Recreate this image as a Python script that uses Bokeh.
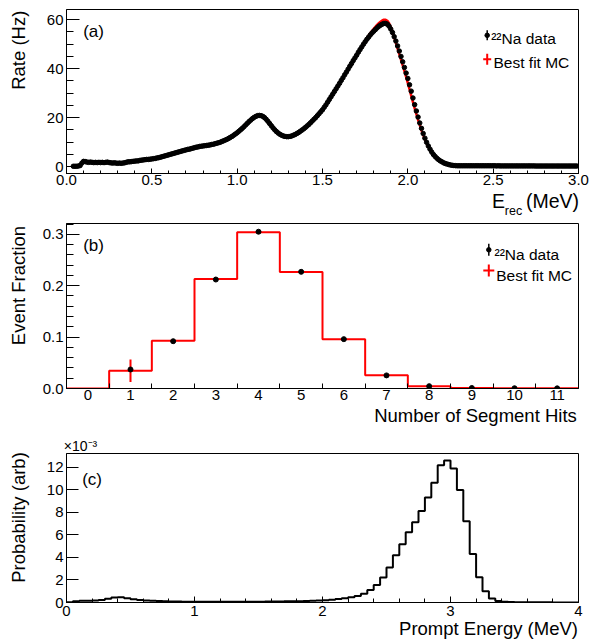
import numpy as np
from bokeh.plotting import figure
from bokeh.layouts import column
from bokeh.models import (Range1d, Label, FixedTicker, SingleIntervalTicker,
                          PrintfTickFormatter, LinearAxis)
from bokeh.embed import file_html
from bokeh.resources import INLINE

FONT = "Liberation Sans"

# ---------------- (a) reconstructed energy spectrum ----------------
E_START = 0.04
E_STEP = 0.01
rate_data = [
    0.1, 0.1, 0.1, 0.2, 0.4, 1.4,
    2.1, 2.0, 1.8, 1.7, 1.8, 1.7, 1.6, 1.7, 1.6, 1.7,
    1.6, 1.7, 1.6, 1.7, 1.8, 1.6, 1.5, 1.4, 1.5, 1.4,
    1.3, 1.4, 1.3, 1.4, 1.5, 1.7, 1.9, 1.9, 2.0, 2.1,
    2.2, 2.3, 2.3, 2.5, 2.6, 2.7, 2.8, 2.9, 2.9, 3.0,
    3.1, 3.2, 3.3, 3.5, 3.6, 3.8, 4.0, 4.2, 4.4, 4.6,
    4.8, 5.0, 5.2, 5.4, 5.6, 5.8, 6.0, 6.2, 6.4, 6.6,
    6.8, 7.0, 7.1, 7.3, 7.5, 7.7, 7.9, 8.0, 8.2, 8.3,
    8.4, 8.5, 8.6, 8.7, 8.8, 9.0, 9.1, 9.3, 9.5, 9.7,
    9.9, 10.2, 10.5, 10.8, 11.1, 11.5, 11.9, 12.3, 12.8, 13.3,
    13.8, 14.4, 15.0, 15.6, 16.3, 17.0, 17.7, 18.4, 19.0, 19.6,
    20.1, 20.5, 20.8, 20.9, 20.8, 20.5, 20.0, 19.3, 18.5, 17.6,
    16.7, 15.8, 15.0, 14.3, 13.7, 13.2, 12.8, 12.5, 12.3, 12.2,
    12.2, 12.3, 12.5, 12.8, 13.1, 13.5, 13.9, 14.4, 14.9, 15.4,
    16.0, 16.6, 17.2, 17.9, 18.6, 19.3, 20.0, 20.8, 21.6, 22.4,
    23.2, 24.2, 25.2, 26.3, 27.4, 28.5, 29.6, 30.7, 31.8, 32.9,
    34.0, 35.2, 36.3, 37.5, 38.6, 39.8, 41.0, 42.1, 43.3, 44.4,
    45.5, 46.7, 47.8, 48.9, 50.0, 51.0, 52.0, 52.9, 53.8, 54.6,
    55.3, 56.0, 56.7, 57.3, 57.8, 58.2, 58.5, 58.5, 58.2, 57.4,
    56.2, 54.8, 53.1, 51.3, 49.3, 47.2, 45.0, 42.8, 40.5, 38.2,
    36.0, 33.4, 30.8, 28.0, 25.3, 22.7, 20.2, 17.8, 15.6, 13.5,
    11.6, 9.9, 8.4, 7.1, 5.9, 4.9, 4.1, 3.4, 2.8, 2.3,
    1.9, 1.5, 1.2, 1.0, 0.8, 0.6, 0.5, 0.4, 0.35, 0.3,
    0.3, 0.3, 0.3, 0.3, 0.3, 0.3, 0.3, 0.3, 0.3, 0.3,
    0.3, 0.3, 0.3, 0.3, 0.3, 0.3, 0.3, 0.3, 0.3, 0.3,
    0.3, 0.3, 0.25, 0.3, 0.25, 0.25, 0.25, 0.25, 0.25, 0.25,
    0.25, 0.25, 0.25, 0.25, 0.25, 0.25, 0.25, 0.25, 0.25, 0.25,
    0.25, 0.25, 0.25, 0.25, 0.25, 0.2, 0.2, 0.2, 0.2, 0.2,
    0.2, 0.2, 0.2, 0.2, 0.2, 0.2, 0.2, 0.2, 0.2, 0.2,
    0.2, 0.2, 0.2, 0.2, 0.2, 0.2, 0.2, 0.2, 0.2, 0.2,
]
# best-fit MC differs visibly from data only around the main peak
MC_PEAK_START = 1.70
mc_peak = [
    45.6, 46.8, 48.0, 49.1, 50.3, 51.4, 52.5, 53.5, 54.5, 55.4,
    56.3, 57.1, 57.9, 58.6, 59.2, 59.7, 60.0, 60.0, 59.6, 58.6,
    57.0, 55.0, 52.8, 50.5, 48.2, 45.9, 43.6, 41.3, 39.0, 36.6,
    34.1, 31.5, 28.9, 26.3, 23.8, 21.4, 19.1, 16.9, 14.8, 12.9,
    11.1, 9.5, 8.1, 6.8, 5.7, 4.8, 4.0, 3.3, 2.7, 2.2,
    1.8, 1.4, 1.2, 1.0, 0.8, 0.6,
]

# ---------------- (b) segment multiplicity ----------------
hits = list(range(12))
mc_frac = [0.0, 0.0345, 0.093, 0.213, 0.304, 0.2265, 0.096, 0.026, 0.0045, 0.001, 0.0005, 0.0003]
mc_frac_err = [0.0, 0.022, 0.003, 0.003, 0.003, 0.003, 0.003, 0.002, 0.001, 0.0005, 0.0, 0.0]
data_hits = [1, 2, 3, 4, 5, 6, 7, 8, 9, 10, 11]
data_frac = [0.037, 0.092, 0.212, 0.305, 0.227, 0.096, 0.0255, 0.0045, 0.001, 0.0005, 0.0003]

# ---------------- (c) prompt energy (x 1e-3) ----------------
PE_START = 0.0
PE_STEP = 0.05
prob = [
    0.03, 0.10, 0.15, 0.16, 0.18, 0.22, 0.33, 0.45, 0.46, 0.38,
    0.28, 0.22, 0.18, 0.16, 0.13, 0.11, 0.09, 0.08, 0.07, 0.07,
    0.07, 0.07, 0.06, 0.06, 0.06, 0.06, 0.06, 0.06, 0.07, 0.07,
    0.07, 0.08, 0.08, 0.09, 0.10, 0.11, 0.12, 0.13, 0.15, 0.17,
    0.20, 0.24, 0.30, 0.37, 0.46, 0.58, 0.78, 1.10, 1.55, 2.22,
    3.10, 4.20, 5.18, 6.25, 7.12, 8.12, 9.32, 10.65, 12.20, 12.62,
    11.90, 10.00, 7.22, 4.30, 2.25, 1.00, 0.35, 0.13, 0.06, 0.04,
    0.03, 0.03, 0.02, 0.02, 0.02, 0.02, 0.01, 0.01, 0.01, 0.01,
]

# ---------------- layout constants ----------------
W = 589
FW = 512
BL, BR = 66, 11


def make_fig(height, top, bottom, xr, yr, fh):
    p = figure(width=W, height=height, x_range=xr, y_range=yr,
               output_backend="svg", toolbar_location=None,
               min_border_left=BL, min_border_right=BR,
               min_border_top=top, min_border_bottom=bottom)
    p.extra_x_ranges = {"px": Range1d(0, FW)}
    p.extra_y_ranges = {"py": Range1d(0, fh)}
    p.xgrid.grid_line_color = None
    p.ygrid.grid_line_color = None
    p.outline_line_color = "black"
    p.outline_line_alpha = 1.0
    p.outline_line_width = 1
    p.background_fill_color = "white"
    p.border_fill_color = "white"
    for ax in (p.xaxis[0], p.yaxis[0]):
        ax.major_tick_out = 0
        ax.minor_tick_out = 0
        ax.axis_line_color = "black"
        ax.major_tick_line_color = "black"
        ax.minor_tick_line_color = "black"
        ax.major_label_text_font = FONT
        ax.major_label_text_font_size = "15px"
        ax.major_label_text_color = "black"
    p.xaxis.major_label_standoff = 1
    p.yaxis.major_label_standoff = 3
    return p


def set_standoff(ax, s):
    try:
        ax.major_label_standoff = s
    except Exception:
        ax.major_label_standoff = 0


def text_axis(p, side, items, size, standoff, orientation="horizontal"):
    """A bare axis whose only tick labels are title texts (positions in pixel units)."""
    if side in ("below", "above"):
        ax = LinearAxis(x_range_name="px")
    else:
        ax = LinearAxis(y_range_name="py")
    ax.ticker = FixedTicker(ticks=[t for t, _ in items], minor_ticks=[])
    ax.major_label_overrides = {t: s for t, s in items}
    ax.axis_line_color = None
    ax.major_tick_line_color = None
    ax.minor_tick_line_color = None
    ax.major_tick_in = 0
    ax.major_tick_out = 0
    ax.minor_tick_in = 0
    ax.minor_tick_out = 0
    ax.major_label_text_font = FONT
    ax.major_label_text_font_size = size
    ax.major_label_text_color = "black"
    ax.major_label_orientation = orientation
    set_standoff(ax, standoff)
    p.add_layout(ax, side)
    return ax


def lab(p, x, y, text, size="17px", align="left"):
    p.add_layout(Label(x=x, y=y, x_units="screen", y_units="screen", text=text,
                       text_font=FONT, text_font_size=size, text_align=align,
                       text_baseline="alphabetic", text_color="black"))


def to_data(rng, px, size):
    return rng.start + (rng.end - rng.start) * px / size


def legend(p, fh, dot, bar, cross_c, cross_hw, cross_hh, t1, t2):
    xr, yr = p.x_range, p.y_range
    dx = to_data(xr, dot[0], FW)
    p.segment(x0=[dx], y0=[to_data(yr, bar[0], fh)], x1=[dx], y1=[to_data(yr, bar[1], fh)],
              line_color="black", line_width=1.5)
    p.scatter([dx], [to_data(yr, dot[1], fh)], size=4.5, color="black")
    cx = to_data(xr, cross_c[0], FW)
    cy = to_data(yr, cross_c[1], fh)
    p.segment(x0=[to_data(xr, cross_c[0] - cross_hw, FW)], y0=[cy],
              x1=[to_data(xr, cross_c[0] + cross_hw, FW)], y1=[cy], line_color="red", line_width=2)
    p.segment(x0=[cx], y0=[to_data(yr, cross_c[1] - cross_hh, fh)],
              x1=[cx], y1=[to_data(yr, cross_c[1] + cross_hh, fh)], line_color="red", line_width=2)
    lab(p, t1[0], t1[1], "\u00b2\u00b2Na data", size="15.5px")
    lab(p, t2[0], t2[1], "Best fit MC", size="15.5px")


# ================= panel (a) =================
FH_A = 165
pa = make_fig(220, 9, 46, Range1d(0, 3.0), Range1d(-2.86, 64.2), FH_A)
e_rec = [round(E_START + E_STEP * i, 3) for i in range(len(rate_data))]
i0 = int(round((MC_PEAK_START - E_START) / E_STEP))
rate_mc = rate_data[:i0] + mc_peak + rate_data[i0 + len(mc_peak):]
pa.line(e_rec, rate_mc, line_color="red", line_width=2.5)
pa.scatter(e_rec, rate_data, size=4.5, color="black")
pa.xaxis.ticker = SingleIntervalTicker(interval=0.5, num_minor_ticks=5)
pa.xaxis.formatter = PrintfTickFormatter(format="%.1f")
pa.yaxis.ticker = SingleIntervalTicker(interval=20, num_minor_ticks=4)
pa.xaxis.major_tick_in = 5
pa.xaxis.minor_tick_in = 3
pa.yaxis.major_tick_in = 13
pa.yaxis.minor_tick_in = 7
lab(pa, 16.7, 142.3, "(a)")
text_axis(pa, "left", [(124, "Rate (Hz)")], "18.5px", 14, "vertical")
text_axis(pa, "below", [(432, "E"), (486, "(MeV)")], "19.5px", 2)
text_axis(pa, "below", [(447, "rec")], "12.5px", -11)
legend(pa, FH_A, dot=(420.7, 139), bar=(134, 144), cross_c=(420.7, 115), cross_hw=4, cross_hh=5.5,
       t1=(424.7, 134.7), t2=(427, 111.3))

# ================= panel (b) =================
FH_B = 165
pb = make_fig(210, 3, 42, Range1d(-0.5, 11.5), Range1d(0, 0.321), FH_B)
edges_b = [h - 0.5 for h in hits] + [hits[-1] + 0.5]
pb.step(edges_b, mc_frac + [mc_frac[-1]], mode="after", line_color="red", line_width=2)
pb.segment(x0=hits, y0=[m - e for m, e in zip(mc_frac, mc_frac_err)],
           x1=hits, y1=[m + e for m, e in zip(mc_frac, mc_frac_err)],
           line_color="red", line_width=2)
pb.scatter(data_hits, data_frac, size=5, color="black")
pb.xaxis.ticker = FixedTicker(ticks=hits, minor_ticks=edges_b)
pb.xaxis.major_tick_in = 0
pb.xaxis.minor_tick_in = 5
pb.yaxis.ticker = SingleIntervalTicker(interval=0.1, num_minor_ticks=5)
pb.yaxis.formatter = PrintfTickFormatter(format="%.1f")
pb.yaxis.major_tick_in = 13
pb.yaxis.minor_tick_in = 7
lab(pb, 16.7, 143, "(b)")
text_axis(pb, "left", [(103, "Event Fraction")], "18.5px", 11, "vertical")
text_axis(pb, "below", [(409, "Number of Segment Hits")], "18.5px", 2)
legend(pb, FH_B, dot=(422.3, 138.7), bar=(132.7, 144.7), cross_c=(422.3, 118), cross_hw=5.5,
       cross_hh=6, t1=(428, 134), t2=(429.7, 113))

# ================= panel (c) =================
FH_C = 149
pc = make_fig(214, 23, 42, Range1d(0, 4), Range1d(0, 13.24), FH_C)
edges_c = [round(PE_START + PE_STEP * i, 3) for i in range(len(prob) + 1)]
pc.step(edges_c, prob + [prob[-1]], mode="after", line_color="black", line_width=2)
pc.xaxis.ticker = SingleIntervalTicker(interval=1, num_minor_ticks=5)
pc.xaxis.major_tick_in = 6
pc.xaxis.minor_tick_in = 4
pc.xaxis.major_label_standoff = 3
pc.yaxis.ticker = SingleIntervalTicker(interval=2, num_minor_ticks=2)
pc.yaxis.minor_tick_line_color = None
pc.yaxis.major_tick_in = 12
lab(pc, 15.7, 122.7, "(c)")
text_axis(pc, "above", [(14, "\u00d710\u207b\u00b3")], "14px", 0)
text_axis(pc, "left", [(85, "Probability (arb)")], "18.5px", 15, "vertical")
text_axis(pc, "below", [(422, "Prompt Energy (MeV)")], "18.5px", -1)

layout = column(pa, pb, pc, spacing=0)
open("out.html", "w").write(file_html(layout, INLINE))
